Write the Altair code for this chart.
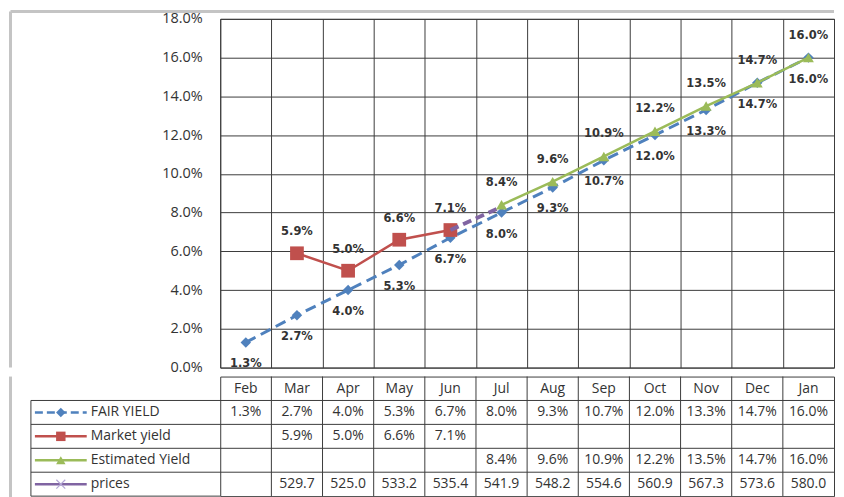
import altair as alt
import pandas as pd

months = ["Feb", "Mar", "Apr", "May", "Jun", "Jul", "Aug", "Sep", "Oct", "Nov", "Dec", "Jan"]
fair_yield = [1.3, 2.7, 4.0, 5.3, 6.7, 8.0, 9.3, 10.7, 12.0, 13.3, 14.7, 16.0]
market_yield = [None, 5.9, 5.0, 6.6, 7.1, None, None, None, None, None, None, None]
estimated_yield = [None, None, None, None, None, 8.4, 9.6, 10.9, 12.2, 13.5, 14.7, 16.0]
prices = [None, 529.7, 525.0, 533.2, 535.4, 541.9, 548.2, 554.6, 560.9, 567.3, 573.6, 580.0]
prices_link_months = ["Jun", "Jul"]
prices_link_values = [7.1, 8.3]
series_names = ["FAIR YIELD", "Market yield", "Estimated Yield", "prices"]
series_colors = ["#4F81BD", "#C0504D", "#9BBB59", "#8064A2"]
y_ticks = [0, 2, 4, 6, 8, 10, 12, 14, 16, 18]

W = 616
H = 350
ROW_H = 24
rows = ["header"] + series_names
TH = ROW_H * len(rows)
GRID = "#3c3c3c"
TXT = "#333333"
AXFONT = "Open Sans"
FRAME = "#c4c4c4"


def series_df(vals, name):
    return pd.DataFrame(
        [{"month": m, "value": v, "label": f"{v:.1f}%", "series": name}
         for m, v in zip(months, vals) if v is not None]
    )


fair_df = series_df(fair_yield, "FAIR YIELD")
market_df = series_df(market_yield, "Market yield")
est_df = series_df(estimated_yield, "Estimated Yield")
link_df = pd.DataFrame({"month": prices_link_months, "value": prices_link_values})

xscale = alt.Scale(type="band", domain=months, paddingInner=0, paddingOuter=0)
yscale = alt.Scale(domain=[0, 18], nice=False, zero=True)

x_axis = alt.Axis(grid=True, tickBand="extent", labels=False, ticks=False, domain=False,
                  gridColor=GRID, gridOpacity=1, gridWidth=1, title=None)
y_axis = alt.Axis(values=y_ticks, labelExpr="format(datum.value, '.1f') + '%'", grid=True,
                  ticks=False, domain=False, labelPadding=18, labelFontSize=14.5,
                  labelOverlap=False, labelFont=AXFONT, labelColor=TXT,
                  gridColor=GRID, gridOpacity=1, gridWidth=1, title=None)
x_top = alt.X("month:N", scale=xscale, axis=x_axis)
y_top = alt.Y("value:Q", scale=yscale, axis=y_axis)

fair_line = alt.Chart(fair_df).mark_line(color=series_colors[0], strokeWidth=3, strokeDash=[11, 6]).encode(x=x_top, y=y_top)
fair_pts = alt.Chart(fair_df).mark_point(shape="diamond", filled=True, size=110, opacity=1, color=series_colors[0]).encode(x=x_top, y=y_top)
fair_txt = alt.Chart(fair_df).mark_text(dy=22, font="DejaVu Sans", fontWeight="bold", fontSize=11.5, color=TXT).encode(x=x_top, y=y_top, text="label:N")

market_line = alt.Chart(market_df).mark_line(color=series_colors[1], strokeWidth=2.5).encode(x=x_top, y=y_top)
market_pts = alt.Chart(market_df).mark_point(shape="square", filled=True, size=190, opacity=1, color=series_colors[1]).encode(x=x_top, y=y_top)
market_txt = alt.Chart(market_df).mark_text(dy=-21, font="DejaVu Sans", fontWeight="bold", fontSize=11.5, color=TXT).encode(x=x_top, y=y_top, text="label:N")

link_line = alt.Chart(link_df).mark_line(color=series_colors[3], strokeWidth=4, strokeDash=[9, 5]).encode(x=x_top, y=y_top)

est_line = alt.Chart(est_df).mark_line(color=series_colors[2], strokeWidth=2.5).encode(x=x_top, y=y_top)
est_pts = alt.Chart(est_df).mark_point(shape="triangle-up", filled=True, size=120, opacity=1, color=series_colors[2]).encode(x=x_top, y=y_top)
est_txt = alt.Chart(est_df).mark_text(dy=-22, font="DejaVu Sans", fontWeight="bold", fontSize=11.5, color=TXT).encode(x=x_top, y=y_top, text="label:N")

frame_left = alt.Chart(link_df.head(1)).mark_rule(color=FRAME, strokeWidth=3).encode(
    x=alt.value(-210.5), y=alt.value(-7.5), y2=alt.value(H))
frame_topline = alt.Chart(link_df.head(1)).mark_rule(color=FRAME, strokeWidth=3).encode(
    y=alt.value(-7.5), x=alt.value(-210.5), x2=alt.value(W))

top = alt.layer(
    fair_line, fair_pts, market_line, market_pts, link_line, est_line, est_pts,
    fair_txt, market_txt, est_txt, frame_left, frame_topline,
).properties(width=W, height=H)

# ---------- data table ----------
cells = [{"row": "header", "month": m, "text": m} for m in months]
for name, vals, fmt in [
    ("FAIR YIELD", fair_yield, "{:.1f}%"),
    ("Market yield", market_yield, "{:.1f}%"),
    ("Estimated Yield", estimated_yield, "{:.1f}%"),
    ("prices", prices, "{:.1f}"),
]:
    for m, v in zip(months, vals):
        if v is not None:
            cells.append({"row": name, "month": m, "text": fmt.format(v)})
cells_df = pd.DataFrame(cells)

yrow = alt.Scale(type="band", domain=rows, paddingInner=0, paddingOuter=0)
x_tab = alt.X("month:N", scale=xscale, axis=None)
y_tab = alt.Y("row:N", scale=yrow, axis=None)

cell_text = alt.Chart(cells_df).mark_text(font=AXFONT, fontSize=14, color=TXT, baseline="middle").encode(
    x=x_tab, y=y_tab, text="text:N")

month_df = pd.DataFrame({"month": months[1:]})
vlines = alt.Chart(month_df).mark_rule(color=GRID, strokeWidth=1).encode(
    x=alt.X("month:N", scale=xscale, bandPosition=0, axis=None),
    y=alt.value(0), y2=alt.value(TH))

series_rows_df = pd.DataFrame({"row": series_names})
hlines = alt.Chart(series_rows_df).mark_rule(color=GRID, strokeWidth=1).encode(
    y=alt.Y("row:N", scale=yrow, bandPosition=0, axis=None),
    x=alt.value(-190), x2=alt.value(W))
left_border = alt.Chart(series_rows_df.head(1)).mark_rule(color=GRID, strokeWidth=1).encode(
    y=alt.Y("row:N", scale=yrow, bandPosition=0, axis=None),
    y2=alt.value(TH), x=alt.value(-190))
bottom_border = alt.Chart(series_rows_df.head(1)).mark_rule(color=GRID, strokeWidth=1).encode(
    y=alt.value(TH), x=alt.value(-190), x2=alt.value(0))
frame_tab = alt.Chart(series_rows_df.head(1)).mark_rule(color=FRAME, strokeWidth=3).encode(
    x=alt.value(-210.5), y=alt.value(0), y2=alt.value(TH + 4))

color_scale = alt.Scale(domain=series_names, range=series_colors)
dash_scale = alt.Scale(domain=series_names, range=[[8, 4], [1, 0], [1, 0], [1, 0]])
legend_lines = alt.Chart(series_rows_df).mark_rule(strokeWidth=2.5).encode(
    y=alt.Y("row:N", scale=yrow, axis=None),
    x=alt.value(-186), x2=alt.value(-134),
    color=alt.Color("row:N", scale=color_scale, legend=None),
    strokeDash=alt.StrokeDash("row:N", scale=dash_scale, legend=None))
shape_scale = alt.Scale(domain=series_names[:3], range=["diamond", "square", "triangle-up"])
legend_pts = alt.Chart(series_rows_df.head(3)).mark_point(filled=True, size=90, opacity=1).encode(
    y=alt.Y("row:N", scale=yrow, axis=None),
    x=alt.value(-160),
    color=alt.Color("row:N", scale=color_scale, legend=None),
    shape=alt.Shape("row:N", scale=shape_scale, legend=None))
legend_x = alt.Chart(series_rows_df.tail(1)).mark_point(
    shape="M-1,-1L1,1M1,-1L-1,1", filled=False, size=80, strokeWidth=1.2, color="#B4A7D6", opacity=1).encode(
    y=alt.Y("row:N", scale=yrow, axis=None), x=alt.value(-160))
legend_txt = alt.Chart(series_rows_df).mark_text(font=AXFONT, fontSize=14, color=TXT, align="left", baseline="middle").encode(
    y=alt.Y("row:N", scale=yrow, axis=None), x=alt.value(-130), text="row:N")

table = alt.layer(
    vlines, hlines, left_border, bottom_border, cell_text, legend_lines, legend_pts, legend_x,
    legend_txt, frame_tab,
).properties(width=W, height=TH)

chart = alt.vconcat(top, table, spacing=0).properties(
    padding={"left": 0, "top": 0, "right": 0, "bottom": 0},
    background="white",
).configure_view(stroke=GRID, strokeWidth=1)

chart.save("out.html", embed_options={"renderer": "svg", "actions": False})
